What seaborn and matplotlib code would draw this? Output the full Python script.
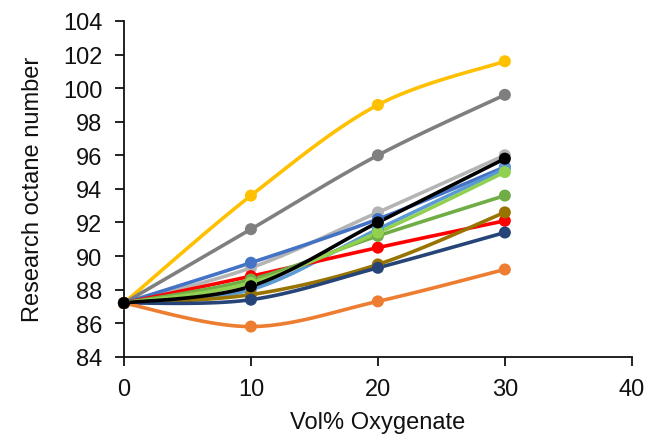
import numpy as np
import pandas as pd
import matplotlib
matplotlib.use("Agg")
import matplotlib.pyplot as plt
import seaborn as sns

# Data
vol = [0, 10, 20, 30]
names = ["S1", "S2", "S3", "S4", "S5", "S6", "S7", "S8", "S9", "S10", "S11", "S12"]
colors = ["#FFC000", "#7F7F7F", "#B4B4B4", "#4472C4", "#5B9BD5", "#FF0000",
          "#70AD47", "#92D050", "#997300", "#264478", "#ED7D31", "#000000"]
ron_s1 = [87.2, 93.6, 99.0, 101.6]
ron_s2 = [87.2, 91.6, 96.0, 99.6]
ron_s3 = [87.2, 89.3, 92.6, 96.0]
ron_s4 = [87.2, 89.6, 92.2, 95.3]
ron_s5 = [87.2, 88.0, 91.6, 95.2]
ron_s6 = [87.2, 88.8, 90.5, 92.1]
ron_s7 = [87.2, 88.6, 91.2, 93.6]
ron_s8 = [87.2, 88.4, 91.4, 95.0]
ron_s9 = [87.2, 87.7, 89.5, 92.6]
ron_s10 = [87.2, 87.4, 89.3, 91.4]
ron_s11 = [87.2, 85.8, 87.3, 89.2]
ron_s12 = [87.2, 88.2, 92.0, 95.8]
series = [ron_s1, ron_s2, ron_s3, ron_s4, ron_s5, ron_s6,
          ron_s7, ron_s8, ron_s9, ron_s10, ron_s11, ron_s12]


def smooth(x, y, n=40):
    # Excel-like smoothed line (Catmull-Rom bezier)
    p = np.column_stack([x, y]).astype(float)
    p = np.vstack([p[0], p, p[-1]])
    out = []
    t = np.linspace(0, 1, n)[:, None]
    for i in range(1, len(p) - 2):
        p0, p1, p2, p3 = p[i - 1], p[i], p[i + 1], p[i + 2]
        c1 = p1 + (p2 - p0) / 6
        c2 = p2 - (p3 - p1) / 6
        seg = ((1 - t) ** 3) * p1 + 3 * ((1 - t) ** 2) * t * c1 + 3 * (1 - t) * t ** 2 * c2 + t ** 3 * p2
        out.append(seg if i == 1 else seg[1:])
    return np.vstack(out)


rows, pts = [], []
for name, vals in zip(names, series):
    curve = smooth(vol, vals)
    for k, (cx, cy) in enumerate(curve):
        rows.append({"series": name, "order": k, "x": cx, "y": cy})
    for vx, vy in zip(vol, vals):
        pts.append({"series": name, "x": vx, "y": vy})
curves = pd.DataFrame(rows)
points = pd.DataFrame(pts)
palette = dict(zip(names, colors))

sns.set_style("ticks")
plt.rcParams["font.family"] = ["Liberation Sans", "DejaVu Sans"]
plt.rcParams["text.color"] = "#111111"
plt.rcParams["axes.labelcolor"] = "#111111"
plt.rcParams["xtick.color"] = "#111111"
plt.rcParams["ytick.color"] = "#111111"

fig = plt.figure(figsize=(6.7, 4.39), dpi=100)
ax = fig.add_axes([0.185, 0.185, 0.758, 0.765])

for name in names:
    sub_c = curves[curves["series"] == name]
    sub_p = points[points["series"] == name]
    sns.lineplot(data=sub_c, x="x", y="y", color=palette[name], linewidth=2.6,
                 sort=False, estimator=None, ax=ax, legend=False)
    sns.scatterplot(data=sub_p, x="x", y="y", color=palette[name], s=75,
                    edgecolor="none", ax=ax, legend=False, clip_on=False, zorder=3)

ax.set_xlim(0, 40)
ax.set_ylim(84, 104)
ax.set_xticks([0, 10, 20, 30, 40])
ax.set_yticks(np.arange(84, 105, 2))
ax.tick_params(direction="out", length=6.5, width=1.3, labelsize=17,
               color="#111111", labelcolor="#111111", pad=9)
for s in ["left", "bottom"]:
    ax.spines[s].set_linewidth(1.3)
    ax.spines[s].set_color("#111111")
sns.despine(ax=ax)
ax.set_xlabel("Vol% Oxygenate", fontsize=17, labelpad=8)
ax.set_ylabel("Research octane number", fontsize=17, labelpad=14)

fig.savefig("out.png", dpi=100)
